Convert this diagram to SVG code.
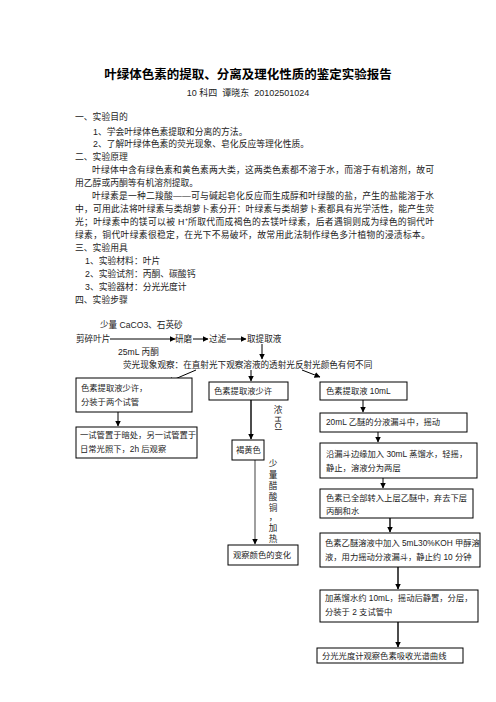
<svg xmlns="http://www.w3.org/2000/svg" width="496" height="702" viewBox="0 0 496 702">
<style>
text{font-family:"Liberation Sans","Noto Sans CJK SC",sans-serif;fill:#222}
.title{font-size:12.5px;font-weight:bold;fill:#000;text-anchor:middle}
.sub{font-size:9px;text-anchor:middle;white-space:pre}
.b{font-size:8.8px}
.f{font-size:8.6px}
.n{font-size:8.3px}
.box{fill:#fff;stroke:#000;stroke-width:1}
.ln{stroke:#000;stroke-width:1;fill:none;marker-end:url(#ah)}
.lk{stroke:#111;stroke-width:1.5;fill:none;marker-end:url(#ah)}
.lg{stroke:#888;stroke-width:1.6;fill:none;marker-end:url(#ah)}
</style>
<defs>
<marker id="ah" markerUnits="userSpaceOnUse" markerWidth="6" markerHeight="6" refX="5.5" refY="3" orient="auto">
<path d="M0,0 L6,3 L0,6 z" fill="#000"/>
</marker>
</defs>
<rect width="496" height="702" fill="#fff"/>
<g id="header">
<text class="title" x="248" y="79">叶绿体色素的提取、分离及理化性质的鉴定实验报告</text>
<text class="sub" x="248" y="96" xml:space="preserve">10 科四  谭晓东  20102501024</text>
</g>
<g id="body">
<text class="b" x="75" y="120">一、实验目的</text>
<text class="b" x="93" y="135">1、学会叶绿体色素提取和分离的方法。</text>
<text class="b" x="93" y="147">2、了解叶绿体色素的荧光现象、皂化反应等理化性质。</text>
<text class="b" x="75" y="160">二、实验原理</text>
<text class="b" x="92" y="173" textLength="342" lengthAdjust="spacing">叶绿体中含有绿色素和黄色素两大类，这两类色素都不溶于水，而溶于有机溶剂，故可</text>
<text class="b" x="75" y="186">用乙醇或丙酮等有机溶剂提取。</text>
<text class="b" x="92" y="199" textLength="342" lengthAdjust="spacing">叶绿素是一种二羧酸——可与碱起皂化反应而生成醇和叶绿酸的盐，产生的盐能溶于水</text>
<text class="b" x="75" y="212" textLength="359" lengthAdjust="spacing">中，可用此法将叶绿素与类胡萝卜素分开：叶绿素与类胡萝卜素都具有光学活性，能产生荧</text>
<text class="b" x="75" y="225" textLength="359" lengthAdjust="spacing">光；叶绿素中的镁可以被 H⁺所取代而成褐色的去镁叶绿素，后者遇铜则成为绿色的铜代叶</text>
<text class="b" x="75" y="238" textLength="355" lengthAdjust="spacing">绿素，铜代叶绿素很稳定，在光下不易破坏，故常用此法制作绿色多汁植物的浸渍标本。</text>
<text class="b" x="75" y="251">三、实验用具</text>
<text class="b" x="85" y="264">1、实验材料：叶片</text>
<text class="b" x="85" y="277">2、实验试剂：丙酮、碳酸钙</text>
<text class="b" x="85" y="290">3、实验器材：分光光度计</text>
<text class="b" x="75" y="303">四、实验步骤</text>
</g>
<g id="connectors">
<line class="ln" x1="110" y1="339" x2="175" y2="339"/>
<line class="ln" x1="193" y1="339" x2="208" y2="339"/>
<line class="ln" x1="227" y1="339" x2="246" y2="339"/>
<line class="ln" x1="262" y1="344" x2="262" y2="359"/>
<line class="ln" x1="196" y1="370" x2="168" y2="382"/>
<line class="ln" x1="251" y1="370" x2="251" y2="381"/>
<line class="ln" x1="302" y1="370" x2="320" y2="377"/>
<line class="ln" x1="118" y1="412" x2="118" y2="426"/>
<line class="lk" x1="251" y1="400" x2="251" y2="439"/>
<line class="lg" x1="255" y1="460" x2="255" y2="544"/>
<line class="ln" x1="363" y1="400" x2="363" y2="412"/>
<line class="ln" x1="378" y1="432" x2="378" y2="442"/>
<line class="ln" x1="383" y1="478" x2="383" y2="488"/>
<line class="lk" x1="390" y1="518" x2="390" y2="532"/>
<line class="lk" x1="398" y1="567" x2="398" y2="589"/>
<line class="lk" x1="398" y1="622" x2="398" y2="647"/>
<text class="f" x="100" y="328">少量 CaCO3、石英砂</text>
<text class="f" x="118" y="355">25mL 丙酮</text>
<text class="f" x="278" y="413" text-anchor="middle">浓</text>
<text class="f" x="275" y="416" transform="rotate(90 275 416)">HCl</text>
<text class="f" x="273 273 273 273 273 273 273 273" y="467 478 489 500 511 520 531 542" text-anchor="middle">少量醋酸铜，加热</text>
</g>
<g id="n-leaf"><text class="f" x="76" y="342">剪碎叶片</text></g>
<g id="n-grind"><text class="f" x="175" y="342">研磨</text></g>
<g id="n-filter"><text class="f" x="209" y="342">过滤</text></g>
<g id="n-extract"><text class="f" x="247" y="342">取提取液</text></g>
<g id="n-fluor"><text class="f" x="123" y="368">荧光现象观察：在直射光下观察溶液的透射光反射光颜色有何不同</text></g>
<g id="n-a"><rect class="box" x="76" y="378" width="116" height="34"/>
<text class="n" x="81" y="391">色素提取液少许，</text><text class="n" x="81" y="405">分装于两个试管</text></g>
<g id="n-b"><rect class="box" x="76" y="427" width="121" height="31"/>
<text class="n" x="80" y="438">一试管置于暗处，另一试管置于</text><text class="n" x="80" y="452">日常光照下，2h 后观察</text></g>
<g id="n-c"><rect class="box" x="209" y="382" width="79" height="18"/>
<text class="n" x="214" y="394">色素提取液少许</text></g>
<g id="n-d"><rect class="box" x="232" y="440" width="32" height="20"/>
<text class="n" x="236" y="453">褐黄色</text></g>
<g id="n-e"><rect class="box" x="228" y="545" width="70" height="20"/>
<text class="n" x="233" y="558">观察颜色的变化</text></g>
<g id="n-f"><rect class="box" x="320" y="382" width="87" height="18"/>
<text class="n" x="326" y="394">色素提取液 10mL</text></g>
<g id="n-g"><rect class="box" x="320" y="413" width="147" height="19"/>
<text class="n" x="326" y="425">20mL 乙醚的分液漏斗中，摇动</text></g>
<g id="n-h"><rect class="box" x="320" y="443" width="157" height="35"/>
<text class="n" x="326" y="457">沿漏斗边缘加入 30mL 蒸馏水，轻摇，</text><text class="n" x="326" y="471">静止，溶液分为两层</text></g>
<g id="n-i"><rect class="box" x="320" y="489" width="153" height="29"/>
<text class="n" x="326" y="501">色素已全部转入上层乙醚中，弃去下层</text><text class="n" x="326" y="514">丙酮和水</text></g>
<g id="n-j"><rect class="box" x="320" y="533" width="160" height="34"/>
<text class="n" x="325" y="546">色素乙醚溶液中加入 5mL30%KOH 甲醇溶</text><text class="n" x="325" y="560">液，用力摇动分液漏斗，静止约 10 分钟</text></g>
<g id="n-k"><rect class="box" x="320" y="590" width="158" height="32"/>
<text class="n" x="325" y="601">加蒸馏水约 10mL，摇动后静置，分层，</text><text class="n" x="325" y="615">分装于 2 支试管中</text></g>
<g id="n-l"><rect class="box" x="317" y="648" width="146" height="15"/>
<text class="n" x="322" y="659">分光光度计观察色素吸收光谱曲线</text></g>
</svg>
